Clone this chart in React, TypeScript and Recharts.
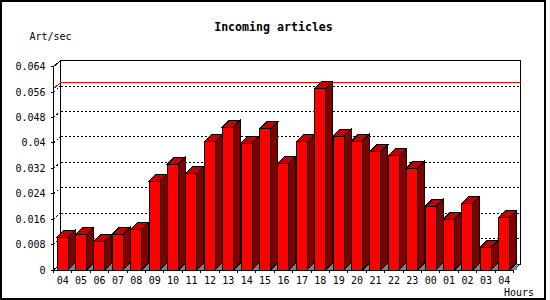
import React from 'react';
import { BarChart, Bar, XAxis, YAxis, ReferenceLine, ReferenceArea } from 'recharts';

const HOURS = ['04','05','06','07','08','09','10','11','12','13','14','15','16','17','18','19','20','21','22','23','00','01','02','03','04'];
const RATES = [0.0103, 0.0112, 0.0091, 0.0112, 0.0128, 0.0280, 0.0333, 0.0305, 0.0403, 0.0450, 0.0399, 0.0444, 0.0336, 0.0403, 0.0571, 0.0421, 0.0406, 0.0373, 0.0359, 0.0321, 0.0200, 0.0160, 0.0210, 0.0072, 0.0166];
const Y_TICKS = [0, 0.008, 0.016, 0.024, 0.032, 0.04, 0.048, 0.056, 0.064];
const GRID_LINES = [0.008, 0.016, 0.024, 0.032, 0.04, 0.048, 0.056];
const PEAK_LINE = 0.0571;
const TITLE = 'Incoming articles';
const Y_LABEL = 'Art/sec';
const X_LABEL = 'Hours';

const data = HOURS.map((h, i) => ({ hour: h, rate: RATES[i] }));

const W = 550;
const H = 300;
const MARGIN = { top: 66.7, right: 36.5, bottom: 10, left: 13.5 };
const PLOT_W = W - 53.5 - MARGIN.right;
const BAND = PLOT_W / HOURS.length;
const GDX = 7;
const GDY = 6;
const BDX = 7;
const BDY = 7;
const FONT = 'DejaVu Sans Mono';

const Bar3D = (props: any) => {
  const { x, y, width, height } = props;
  if (x == null || y == null) return null;
  const fx = x - 0.5;
  const base = y + height;
  const r = fx + width;
  return (
    <g shapeRendering="crispEdges">
      <polygon points={`${r},${base} ${r + BDX},${base} ${r + BDX},${base - BDY}`} fill="#808080" />
      <polygon points={`${r},${y} ${r + BDX},${y - BDY} ${r + BDX},${base - BDY} ${r},${base}`} fill="#800000" stroke="#000" />
      <polygon points={`${fx},${y} ${fx + BDX},${y - BDY} ${r + BDX},${y - BDY} ${r},${y}`} fill="#C00000" stroke="#000" />
      <rect x={fx} y={y} width={width} height={height} fill="#FF0000" stroke="#000" />
    </g>
  );
};

const Frame = (props: any) => {
  const { x, y, width, height } = props;
  const L = x, R = x + width, T = y, B = y + height;
  return (
    <g shapeRendering="crispEdges" fill="none" stroke="#000">
      <polygon points={`${L + GDX},${B - GDY} ${L + GDX},${T - GDY} ${R + GDX},${T - GDY} ${R + GDX},${B - GDY}`} />
      <line x1={L} y1={T} x2={L + GDX} y2={T - GDY} />
      <line x1={L} y1={B} x2={L + GDX} y2={B - GDY} />
      <line x1={R} y1={B} x2={R + GDX} y2={B - GDY} />
    </g>
  );
};

const GridShape = (props: any) => {
  const { x1, y1, x2, y2 } = props;
  return (
    <g shapeRendering="crispEdges" stroke="#000" strokeDasharray="2 2" fill="none">
      <line x1={x1} y1={y1} x2={x1 + GDX} y2={y1 - GDY} />
      <line x1={x1 + GDX} y1={y1 - GDY} x2={x2 + GDX} y2={y2 - GDY} />
    </g>
  );
};

const PeakShape = (props: any) => {
  const { x1, y1, x2, y2 } = props;
  return (
    <polyline
      shapeRendering="crispEdges"
      points={`${x1},${y1} ${x1 + GDX},${y1 - GDY} ${x2 + GDX},${y2 - GDY}`}
      stroke="#FF0000"
      fill="none"
    />
  );
};

const HourTick = (props: any) => {
  const { x, y, payload, index } = props;
  const left = x - BAND / 2;
  return (
    <g>
      <line x1={left} y1={y} x2={left} y2={y + 3} stroke="#000" shapeRendering="crispEdges" />
      {index === HOURS.length - 1 && (
        <line x1={x + BAND / 2} y1={y} x2={x + BAND / 2} y2={y + 3} stroke="#000" shapeRendering="crispEdges" />
      )}
      <text x={x} y={y + 13.5} textAnchor="middle" fontSize={10} fontFamily={FONT} fill="#000">
        {payload.value}
      </text>
    </g>
  );
};

export default function App() {
  return (
    <div style={{ position: 'fixed', left: 0, top: 0, width: W, height: H, background: '#fff' }}>
      <BarChart width={W} height={H} data={data} margin={MARGIN} barSize={11}>
        <XAxis
          dataKey="hour"
          interval={0}
          tickLine={false}
          tickSize={0}
          tickMargin={0}
          height={20}
          axisLine={{ stroke: '#000', shapeRendering: 'crispEdges' }}
          tick={<HourTick />}
        />
        <YAxis
          width={40}
          domain={[0, 0.064]}
          ticks={Y_TICKS}
          interval={0}
          tickSize={3}
          tickMargin={5}
          axisLine={{ stroke: '#000', shapeRendering: 'crispEdges' }}
          tickLine={{ stroke: '#000', shapeRendering: 'crispEdges' }}
          tick={{ fill: '#000', fontSize: 10, fontFamily: FONT }}
        />
        <ReferenceArea y1={0} y2={0.064} ifOverflow="visible" shape={<Frame />} zIndex={-50} />
        {GRID_LINES.map((v) => (
          <ReferenceLine key={v} y={v} ifOverflow="visible" shape={<GridShape />} zIndex={-40} />
        ))}
        <ReferenceLine y={PEAK_LINE} ifOverflow="visible" shape={<PeakShape />} zIndex={-30} />
        <Bar dataKey="rate" isAnimationActive={false} shape={<Bar3D />} />
      </BarChart>
      <svg width={W} height={H} style={{ position: 'absolute', left: 0, top: 0, pointerEvents: 'none' }}>
        <rect x={1} y={1} width={543.5} height={297.7} fill="none" stroke="#000" strokeWidth={2} shapeRendering="crispEdges" />
        <text x={273.5} y={31} textAnchor="middle" fontFamily={FONT} fontWeight="bold" fontSize={11.6} fill="#000">
          {TITLE}
        </text>
        <text x={29.5} y={40} fontFamily={FONT} fontSize={10} fill="#000">
          {Y_LABEL}
        </text>
        <text x={534} y={296} textAnchor="end" fontFamily={FONT} fontSize={10} fill="#000">
          {X_LABEL}
        </text>
      </svg>
    </div>
  );
}
